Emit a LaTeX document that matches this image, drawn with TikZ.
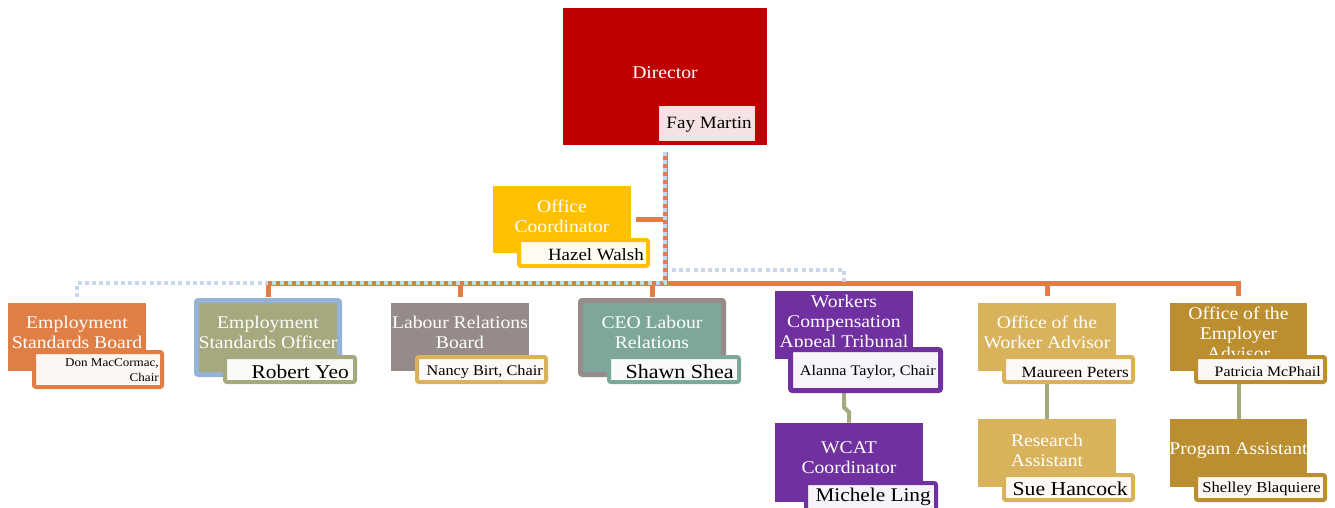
\documentclass[tikz,border=0pt]{standalone}
\usepackage{fontspec}
\setmainfont[FakeStretch=1.1]{Liberation Serif}
\usetikzlibrary{fit}
\definecolor{cred}{HTML}{C00000}
\definecolor{cyellow}{HTML}{FFC000}
\definecolor{corange}{HTML}{E07F45}
\definecolor{lblue}{HTML}{C6D8EA}
\definecolor{cblue}{HTML}{95B3D7}
\definecolor{colive}{HTML}{A5A97D}
\definecolor{cmauve}{HTML}{978B89}
\definecolor{cteal}{HTML}{7CA79A}
\definecolor{cpurple}{HTML}{7030A0}
\definecolor{cgold}{HTML}{D9B25C}
\definecolor{cdgold}{HTML}{BB8F2F}
\definecolor{cpink}{HTML}{F5E2E4}
\begin{document}
\begin{tikzpicture}[x=0.75pt,y=-0.75pt,
  orgbox/.style={inner sep=0pt, fill=#1, draw=none},
  framedbox/.style 2 args={inner sep=0pt, fill=#1, draw=#2, line width=3.75pt, rounded corners=1.5pt},
  namebox/.style={inner sep=0pt, draw=#1, line width=3pt, rounded corners=1.5pt, fill=#1!6!white},
  titletext/.style={text=white, align=center, font=\fontsize{13.4}{15}\selectfont, inner sep=0pt},
  nametext/.style={anchor=east, inner sep=0pt, align=right, text=black},
  oline/.style={draw=corange, line width=3.75pt},
  odash/.style={draw=lblue, line width=2.6pt, dash pattern=on 3pt off 3pt,
     preaction={draw=corange, solid, line width=3.75pt}},
  bdot/.style={draw=lblue, line width=3pt, dash pattern=on 3pt off 2.4pt},
  gline/.style={draw=colive, line width=3pt}
]
\fill[white] (0,0) rectangle (1335,507);
\clip (0,0) rectangle (1335,507);

% ---- boxes (shapes, named)
\node[orgbox=cred, fit={(563,8)(767,145)}] (dir) {};
\node[orgbox=cyellow, fit={(493,186)(631,253)}] (oc) {};
\node[orgbox=corange, fit={(8,303)(146,371)}] (esb) {};
\node[framedbox={colive}{cblue}, fit={(196.5,300.5)(339.5,374.5)}] (eso) {};
\node[orgbox=cmauve, fit={(391,303)(529,371)}] (lrb) {};
\node[framedbox={cteal}{cmauve}, fit={(580.5,300.5)(723.5,374.5)}] (ceo) {};
\node[orgbox=cpurple, fit={(775,291)(913,359)}] (trib) {};
\node[orgbox=cpurple, fit={(775,423)(923,502)}] (coord) {};
\node[orgbox=cgold, fit={(978,303)(1116,371)}] (owa) {};
\node[orgbox=cgold, fit={(978,419)(1116,487)}] (ra) {};
\node[orgbox=cdgold, fit={(1170,303)(1307,371)}] (oea) {};
\node[orgbox=cdgold, fit={(1170,419)(1307,487)}] (pa) {};

% ---- connectors
\coordinate (bar) at (665,283);
\coordinate (dotstart) at (672,270);
\draw[oline] ([xshift=3.75pt]oc.east) -- (oc.east -| dir.south);
\draw[oline] ([yshift=5.25pt]oea.north) -- (oea.north |- bar) -- (dir.south |- bar);
\draw[oline] ([yshift=5.25pt]owa.north) -- (owa.north |- bar);
\draw[oline] ([yshift=0.75pt]eso.north) -- (eso.north |- bar);
\draw[oline] ([yshift=4.5pt]lrb.north) -- (lrb.north |- bar);
\draw[oline] ([yshift=0.75pt]ceo.north) -- (ceo.north |- bar);
\draw[odash] ([yshift=-5.25pt]dir.south) -- (dir.south |- bar) -- (eso.north |- bar);
\draw[bdot] ([yshift=4.5pt]esb.north) -- (esb.north |- bar) -- (eso.north |- bar);
\draw[bdot] (dotstart) -| (trib.north |- bar);
\draw[gline] (trib.south) -- ++(0,48) -- ++(5,5) -- (coord.north);
\draw[gline] (owa.south) -- (ra.north);
\draw[gline] (oea.south) -- (pa.north);

% ---- titles
\node[titletext] (tdir) at (665,73) {Director};
\node[titletext] (toc) at (562,216) {Office\\Coordinator};
\node[titletext] (tesb) at (77,332) {Employment\\Standards Board};
\node[titletext] (teso) at (268,332) {Employment\\Standards Officer};
\node[titletext] (tlrb) at (460,332) {Labour Relations\\Board};
\node[titletext] (tceo) at (652,332) {CEO Labour\\Relations};
\node[titletext] (ttrib) at (844,323) {Workers\\Compensation\\Appeal Tribunal};
\node[titletext] (tcoord) at (849,458) {WCAT\\Coordinator};
\node[titletext] (towa) at (1047,332) {Office of the\\Worker Advisor};
\node[titletext] (tra) at (1047,450) {Research\\Assistant};
\node[titletext] (toea) at (1238.5,333) {Office of the\\Employer\\Advisor};
\node[titletext] (tpa) at (1238.5,451) {Progam Assistant};

% ---- name boxes
\node[inner sep=0pt, fill=cpink, draw=white!85!cred, line width=0.75pt, fit={(659,106)(754,140)}] (ndir) {};
\node[namebox=cyellow, fit={(519,240)(648,266)}] (noc) {};
\node[namebox=corange, fit={(34,352)(162,387)}] (nesb) {};
\node[namebox=colive, fit={(225,357)(355,382)}] (neso) {};
\node[namebox=cgold, fit={(417,357)(546,382)}] (nlrb) {};
\node[namebox=cteal, fit={(609,357)(739,382)}] (nceo) {};
\node[namebox=cpurple, line width=3.75pt, fit={(790.5,349.5)(940.5,390.5)}] (ntrib) {};
\node[namebox=cpurple, fit={(806,483)(936,513)}] (ncoord) {};
\node[namebox=cgold, fit={(1004,357)(1133,382)}] (nowa) {};
\node[namebox=cgold, fit={(1004,475)(1133,500)}] (nra) {};
\node[namebox=cdgold, fit={(1196,357)(1325,382)}] (noea) {};
\node[namebox=cdgold, fit={(1196,475)(1325,500)}] (npa) {};

% ---- names
\node[nametext, font=\fontsize{13}{15}\selectfont] (xdir) at (752,125) {Fay Martin};
\node[nametext, font=\fontsize{12.9}{15}\selectfont] (xoc) at (644,255) {Hazel Walsh};
\node[nametext, font=\fontsize{8.9}{11.2}\selectfont] (xesb) at (159,370) {Don MacCormac,\\Chair};
\node[nametext, font=\fontsize{14.6}{16}\selectfont] (xeso) at (349,372) {Robert Yeo};
\node[nametext, font=\fontsize{11.1}{13}\selectfont] (xlrb) at (543,372) {Nancy Birt, Chair};
\node[nametext, font=\fontsize{15}{16}\selectfont] (xceo) at (734,372) {Shawn Shea};
\node[nametext, font=\fontsize{11}{13}\selectfont] (xtrib) at (936,372) {Alanna Taylor, Chair};
\node[nametext, font=\fontsize{14.5}{16}\selectfont] (xcoord) at (931,497) {Michele Ling};
\node[nametext, font=\fontsize{11.7}{13}\selectfont] (xowa) at (1129,372) {Maureen Peters};
\node[nametext, font=\fontsize{14.8}{16}\selectfont] (xra) at (1128,489) {Sue Hancock};
\node[nametext, font=\fontsize{10.8}{13}\selectfont] (xoea) at (1321,372) {Patricia McPhail};
\node[nametext, font=\fontsize{11.3}{13}\selectfont] (xpa) at (1321,489) {Shelley Blaquiere};
\end{tikzpicture}
\end{document}
